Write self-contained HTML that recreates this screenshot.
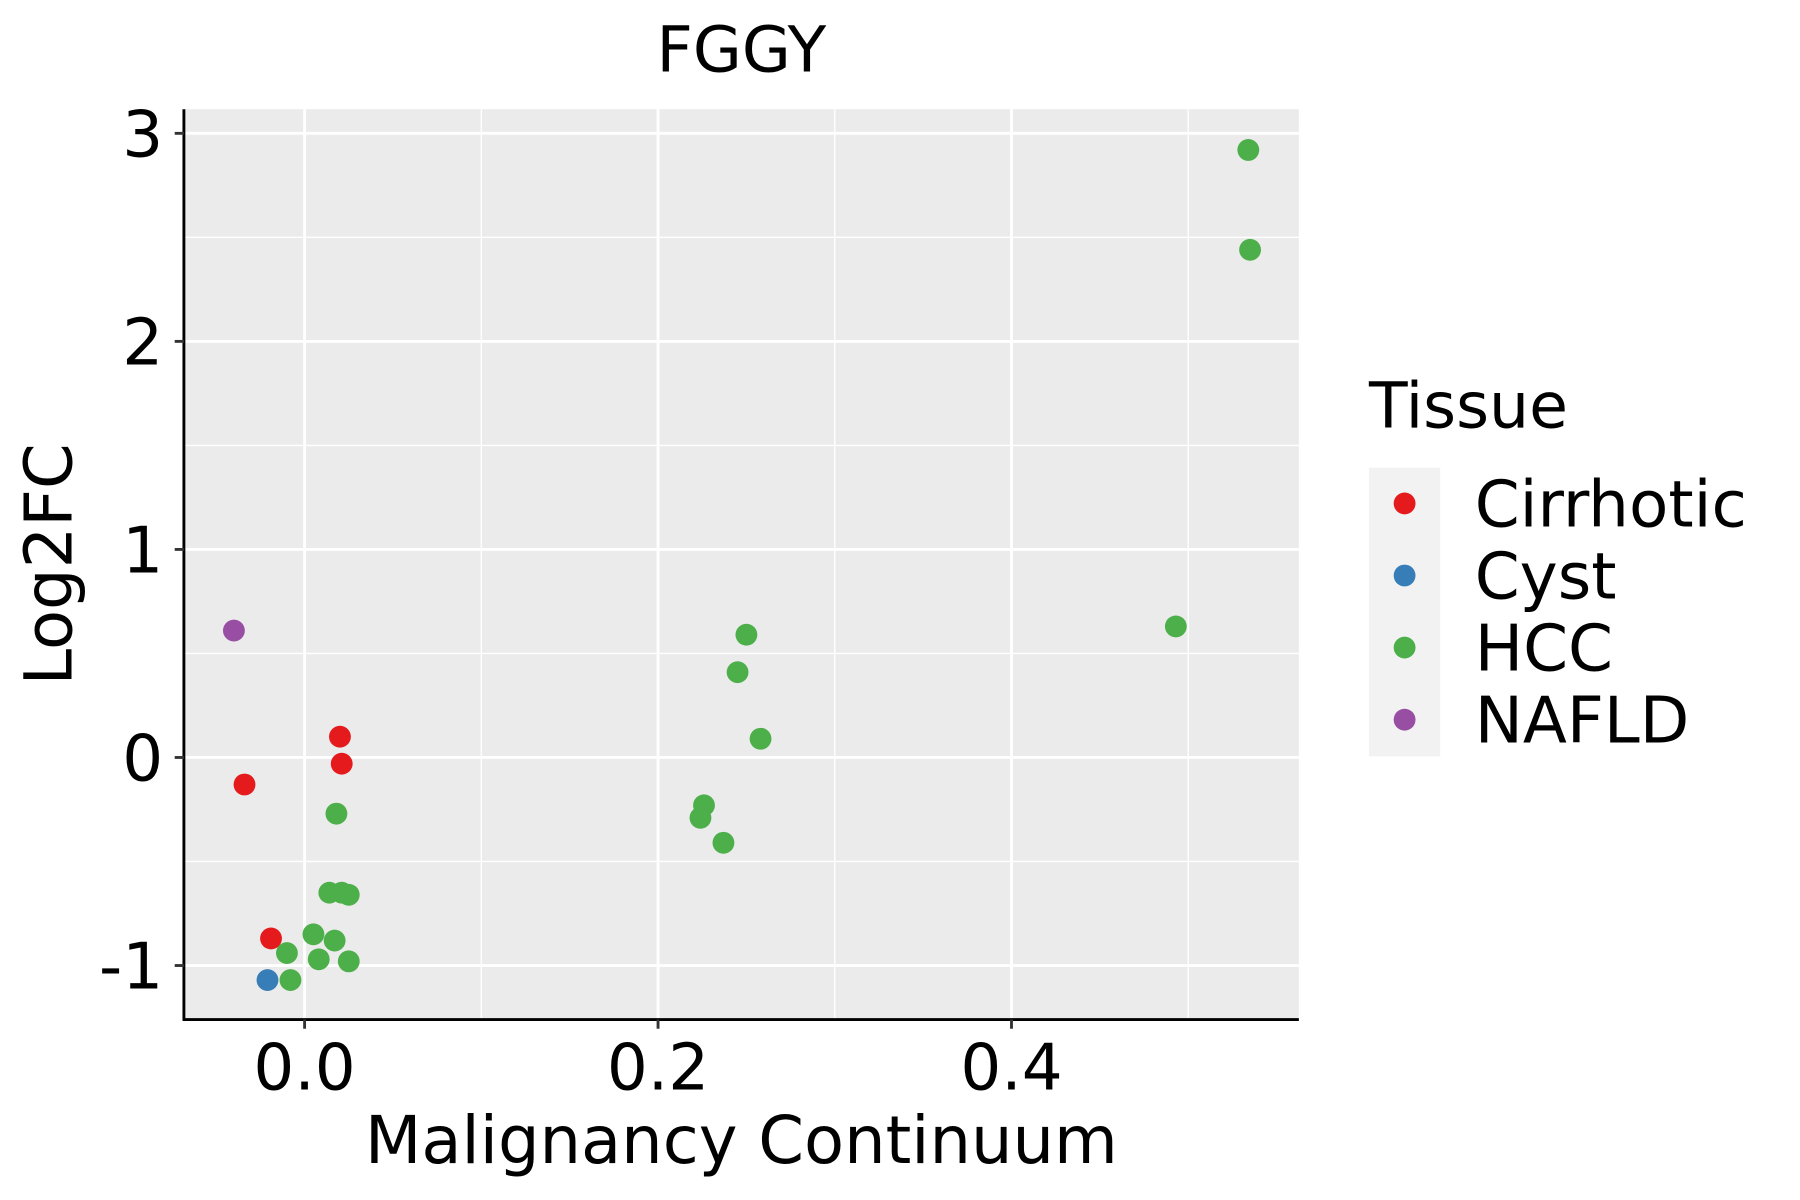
<!DOCTYPE html>
<html><head><meta charset="utf-8"><style>
html,body{margin:0;padding:0;background:#fff;}
svg{display:block;font-family:"DejaVu Sans","Liberation Sans",sans-serif;}
</style></head><body>
<svg id="chart" width="1800" height="1200" viewBox="0 0 1566 1044" preserveAspectRatio="none" xmlns="http://www.w3.org/2000/svg">
<text x="645" y="62" font-size="55" text-anchor="middle">FGGY</text>
<rect x="160" y="95" width="970" height="792" fill="#ebebeb"/>
<g id="grid"></g>
<g id="points"></g>
<line x1="160" y1="95" x2="160" y2="888" stroke="#000" stroke-width="2.5"/>
<line x1="159" y1="887" x2="1130" y2="887" stroke="#000" stroke-width="2.5"/>
<g id="ticks"></g>
<text x="645" y="1012" font-size="57" text-anchor="middle">Malignancy Continuum</text>
<text transform="translate(62,491) rotate(-90)" font-size="57" text-anchor="middle">Log2FC</text>
<text x="1191" y="372" font-size="55">Tissue</text>
<rect x="1191" y="407" width="62" height="251" fill="#f2f2f2"/>
<g id="legend"></g>
</svg>
<script>
const categories = ["Cirrhotic","Cyst","HCC","NAFLD"];
const colors = ["#e41a1c","#377eb8","#4daf4a","#984ea3"];
const xTicks = [0.0, 0.2, 0.4];
const xTickLabels = ["0.0","0.2","0.4"];
const yTicks = [-1, 0, 1, 2, 3];
const yTickLabels = ["-1","0","1","2","3"];
const ptX = [-0.034,0.020,0.021,-0.019, -0.021, 0.534,0.535,0.493,0.250,0.245,0.258,0.226,0.224,0.237,0.018,0.014,0.021,0.025,0.005,0.017,0.008,0.025,-0.010,-0.008, -0.040];
const ptY = [-0.13,0.10,-0.03,-0.87, -1.07, 2.92,2.44,0.63,0.59,0.41,0.09,-0.23,-0.29,-0.41,-0.27,-0.65,-0.65,-0.66,-0.85,-0.88,-0.97,-0.98,-0.94,-1.07, 0.61];
const ptCat = ["Cirrhotic","Cirrhotic","Cirrhotic","Cirrhotic","Cyst","HCC","HCC","HCC","HCC","HCC","HCC","HCC","HCC","HCC","HCC","HCC","HCC","HCC","HCC","HCC","HCC","HCC","HCC","HCC","NAFLD"];

const NS="http://www.w3.org/2000/svg";
const sx = v => 265 + v*1537.5;
const sy = v => 659 - v*181;
function mk(tag, attrs, parent){const e=document.createElementNS(NS,tag);for(const k in attrs)e.setAttribute(k,attrs[k]);parent.appendChild(e);return e;}
const grid=document.getElementById('grid'), ticks=document.getElementById('ticks'), pts=document.getElementById('points'), leg=document.getElementById('legend');
for(let i=0;i<xTicks.length;i++){
  const v=xTicks[i]+0.1; const x=sx(v);
  if(x<1130){const l=mk('line',{x1:x,x2:x,y1:95,y2:887,stroke:'#fff','stroke-width':1.2},grid);
  
  }
}
for(let i=0;i<yTicks.length;i++){
  const y=sy(yTicks[i]+0.5);
  if(y>95){const l=mk('line',{x1:160,x2:1130,y1:y,y2:y,stroke:'#fff','stroke-width':1.2},grid);
  
  }
}
xTicks.forEach((v,i)=>{
  const x=sx(v);
  const g=mk('line',{x1:x,x2:x,y1:95,y2:887,stroke:'#fff','stroke-width':2.5},grid);
  
  
  const t=mk('line',{x1:x,x2:x,y1:887,y2:895,stroke:'#333','stroke-width':2.5},ticks);
  
  
  const lb=mk('text',{x:x,y:948,'font-size':56,'text-anchor':'middle'},ticks);
  lb.textContent=xTickLabels[i];
  
  
});
yTicks.forEach((v,i)=>{
  const y=sy(v);
  const g=mk('line',{x1:160,x2:1130,y1:y,y2:y,stroke:'#fff','stroke-width':2.5},grid);
  
  
  const t=mk('line',{x1:152,x2:160,y1:y,y2:y,stroke:'#333','stroke-width':2.5},ticks);
  
  
  const lb=mk('text',{x:142,y:y+20,'font-size':56,'text-anchor':'end'},ticks);
  lb.textContent=yTickLabels[i];
  
  
});
ptX.forEach((v,i)=>{
  const c=mk('circle',{cx:sx(v),cy:sy(ptY[i]),r:9.5,fill:colors[categories.indexOf(ptCat[i])]},pts);
  
  
});
categories.forEach((c,i)=>{
  const y=438+i*62.7;
  const k=mk('circle',{cx:1222,cy:y,r:9.5,fill:colors[i]},leg);
  
  
  const t=mk('text',{x:1283,y:y+20,'font-size':56},leg);
  t.textContent=c;
  
  
});
</script>
</body></html>
